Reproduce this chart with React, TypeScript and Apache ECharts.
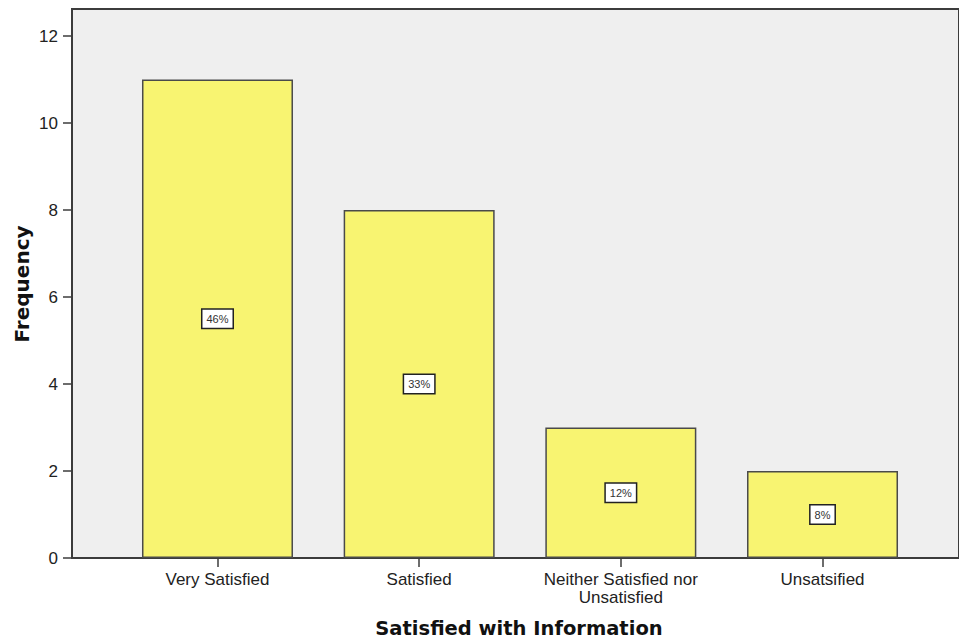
import React, { useEffect, useRef } from "react";
import * as echarts from "echarts";

const categories = ["Very Satisfied", "Satisfied", "Neither Satisfied nor\nUnsatisfied", "Unsatsified"];
const frequencies = [11, 8, 3, 2];
const percentLabels = ["46%", "33%", "12%", "8%"];
const yTicks = { min: 0, max: 12, interval: 2 };
const xTitle = "Satisfied with Information";
const yTitle = "Frequency";

export default function App() {
  const ref = useRef<HTMLDivElement>(null);
  useEffect(() => {
    if (!ref.current) return;
    const chart = echarts.init(ref.current, undefined, { renderer: "svg" });
    const axisColor = "#3c3c3c";
    chart.setOption({
      animation: false,
      backgroundColor: "#ffffff",
      grid: [
        {
          left: 72, top: 9, right: -5, bottom: 83,
          show: true, backgroundColor: "#efefef",
          borderColor: axisColor, borderWidth: 2,
        },
        { left: 116.65, top: 36, right: 35.65, bottom: 83 },
      ],
      xAxis: [
        { gridIndex: 0, type: "value", show: false, min: 0, max: 1 },
        {
          gridIndex: 1, type: "category", data: categories,
          axisLine: { show: false },
          axisTick: { show: true, alignWithLabel: true, length: 9, lineStyle: { color: axisColor, width: 1.5 } },
          axisLabel: { fontFamily: "Liberation Sans", fontSize: 17, color: "#222", margin: 12, lineHeight: 18 },
        },
      ],
      yAxis: [
        { gridIndex: 0, type: "value", show: false, min: 0, max: 1 },
        {
          gridIndex: 1, type: "value", min: yTicks.min, max: yTicks.max, interval: yTicks.interval,
          offset: 44.65,
          axisLine: { show: false },
          splitLine: { show: false },
          axisTick: { show: true, length: 9, lineStyle: { color: axisColor, width: 1.5 } },
          axisLabel: { fontFamily: "Liberation Sans", fontSize: 17, color: "#222", margin: 14 },
        },
      ],
      series: [
        {
          type: "bar", xAxisIndex: 1, yAxisIndex: 1,
          data: frequencies, barWidth: 151,
          itemStyle: { color: "#f8f471", borderColor: "#4a4a4a", borderWidth: 1.5 },
          label: {
            show: true, position: "inside",
            formatter: (p: any) => percentLabels[p.dataIndex],
            fontFamily: "Liberation Sans", fontSize: 11, color: "#333",
            backgroundColor: "#ffffff", borderColor: "#222", borderWidth: 1.5,
            padding: [4, 4, 3, 4],
          },
        },
      ],
      graphic: [
        {
          type: "text", x: 519, y: 628,
          style: { text: xTitle, font: "bold 19.5px 'DejaVu Sans'", fill: "#111", textAlign: "center", textVerticalAlign: "middle" },
        },
        {
          type: "text", x: 22, y: 284, rotation: Math.PI / 2,
          style: { text: yTitle, font: "bold 20px 'DejaVu Sans'", fill: "#111", textAlign: "center", textVerticalAlign: "middle" },
        },
      ],
    });
    return () => chart.dispose();
  }, []);
  return <div ref={ref} style={{ position: "fixed", left: 0, top: 0, width: 959, height: 641 }} />;
}
